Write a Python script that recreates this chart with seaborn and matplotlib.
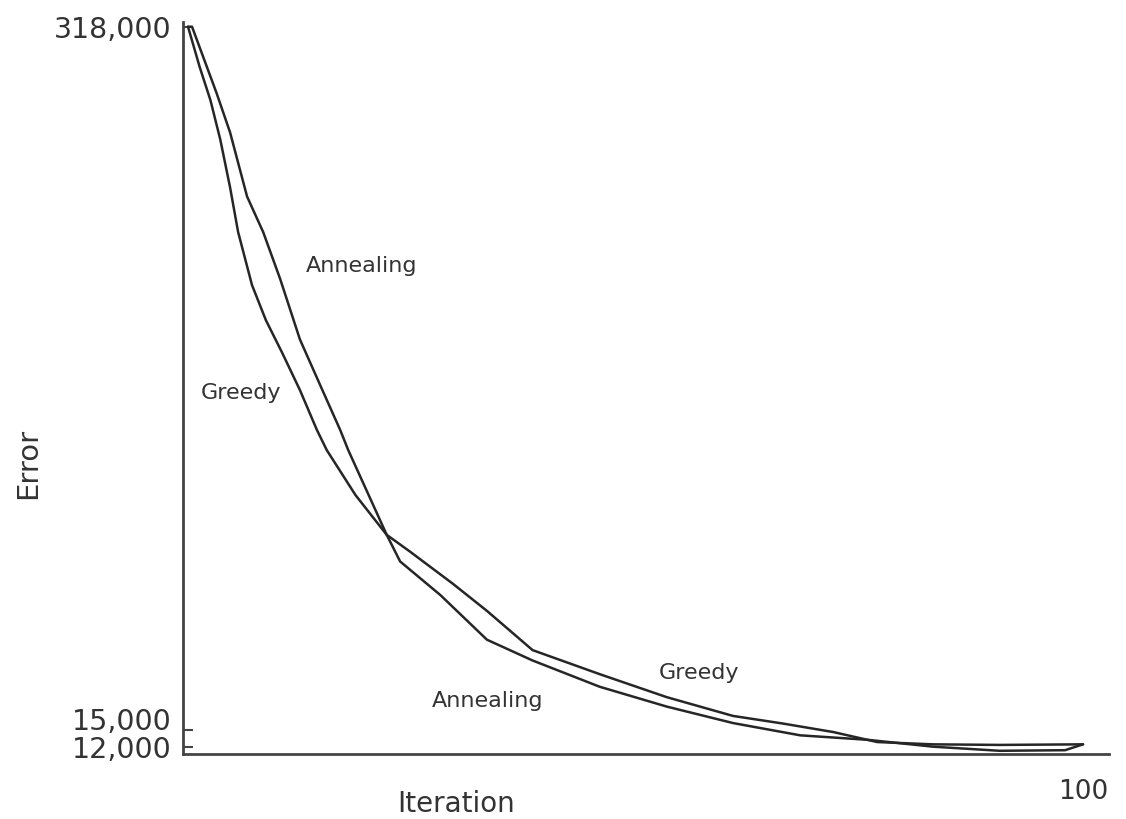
import numpy as np
import pandas as pd
import matplotlib
matplotlib.use("Agg")
import matplotlib.pyplot as plt
import seaborn as sns

# ---- data ----
greedy_iter = [0, 1.3, 2.5, 3.6, 4.7, 5.6, 7.15, 8.7, 10.5, 12.5, 14.4, 15.5, 18.7,
               22.2, 24.8, 29.6, 33.4, 38.5, 46.0, 53.5, 60.9, 66.5, 72.1, 77.0,
               83.2, 90.7, 100]
greedy_err = [318000, 293000, 273000, 250000, 223000, 199000, 172000, 155000,
              140000, 123300, 106500, 98400, 81300, 67200, 61600, 51400, 43400,
              32800, 26900, 21700, 17800, 16300, 14700, 12900, 12500, 12400, 12500]

anneal_iter = [0, 0.45, 3.2, 4.7, 6.6, 8.4, 10.3, 12.5, 14.7, 17.0, 17.9, 22.2,
               23.7, 28.2, 33.4, 38.5, 46.0, 53.5, 60.9, 68.4, 75.9, 83.2, 90.7,
               98.0, 100]
anneal_err = [318000, 318000, 277000, 254000, 218000, 199000, 175000, 146000,
              126000, 106500, 98400, 67200, 58400, 48000, 35500, 30200, 24000,
              19700, 16400, 14100, 13300, 12100, 11400, 11500, 12500]

y_ticks = [12000, 15000, 318000]
y_tick_labels = ["12,000", "15,000", "318,000"]
x_ticks = [100]
x_tick_labels = ["100"]

df = pd.concat([
    pd.DataFrame({"Iteration": greedy_iter, "Error": greedy_err, "method": "Greedy"}),
    pd.DataFrame({"Iteration": anneal_iter, "Error": anneal_err, "method": "Annealing"}),
], ignore_index=True)

sns.set_style("white")
plt.rcParams["font.family"] = ["DejaVu Sans"]

W, H = 1126, 819
fig = plt.figure(figsize=(W / 100, H / 100), dpi=100)
fig.patch.set_facecolor("white")
ax = fig.add_axes([183 / W, 1 - 754 / H, (1109 - 183) / W, (754 - 22) / H])

P = 0.6
def fwd(y):
    y = np.asarray(y, dtype=float)
    return np.sign(y) * np.abs(y) ** P
def inv(y):
    y = np.asarray(y, dtype=float)
    return np.sign(y) * np.abs(y) ** (1 / P)

ax.set_yscale("function", functions=(fwd, inv))

line_col = "#262626"
sns.lineplot(data=df, x="Iteration", y="Error", hue="method",
             palette={"Greedy": line_col, "Annealing": line_col},
             estimator=None, sort=False, legend=False, linewidth=1.8, ax=ax)

ax.set_xlim(-0.56, 102.9)
ax.set_ylim(10870, 321000)

ax.set_yticks(y_ticks)
ax.set_yticklabels(y_tick_labels, fontsize=20.5, color="#333333")
ax.tick_params(axis="y", direction="in", length=7, width=1.5, color="#444444", pad=8,
               left=True)
ylabs = ax.get_yticklabels()
ylabs[1].set_va("baseline")

ax.set_xticks(x_ticks)
ax.set_xticklabels(x_tick_labels, fontsize=19, color="#333333")
ax.tick_params(axis="x", length=0, pad=18)

ax.set_xlabel("Iteration", fontsize=20, color="#333333")
ax.xaxis.set_label_coords(0.295, -0.049)
ax.set_ylabel("Error", fontsize=21, color="#333333")
ax.yaxis.set_label_coords(-0.1526, 0.3975)

for s in ["top", "right"]:
    ax.spines[s].set_visible(False)
for s in ["left", "bottom"]:
    ax.spines[s].set_color("#444444")
    ax.spines[s].set_linewidth(2)

lab_kw = dict(fontsize=16, color="#333333", ha="center", va="center")
ax.text(19.4, 181600, "Annealing", **lab_kw)
ax.text(5.9, 122000, "Greedy", **lab_kw)
ax.text(57.1, 27200, "Greedy", **lab_kw)
ax.text(33.5, 20900, "Annealing", **lab_kw)

fig.savefig("out.png", dpi=100, facecolor="white")
